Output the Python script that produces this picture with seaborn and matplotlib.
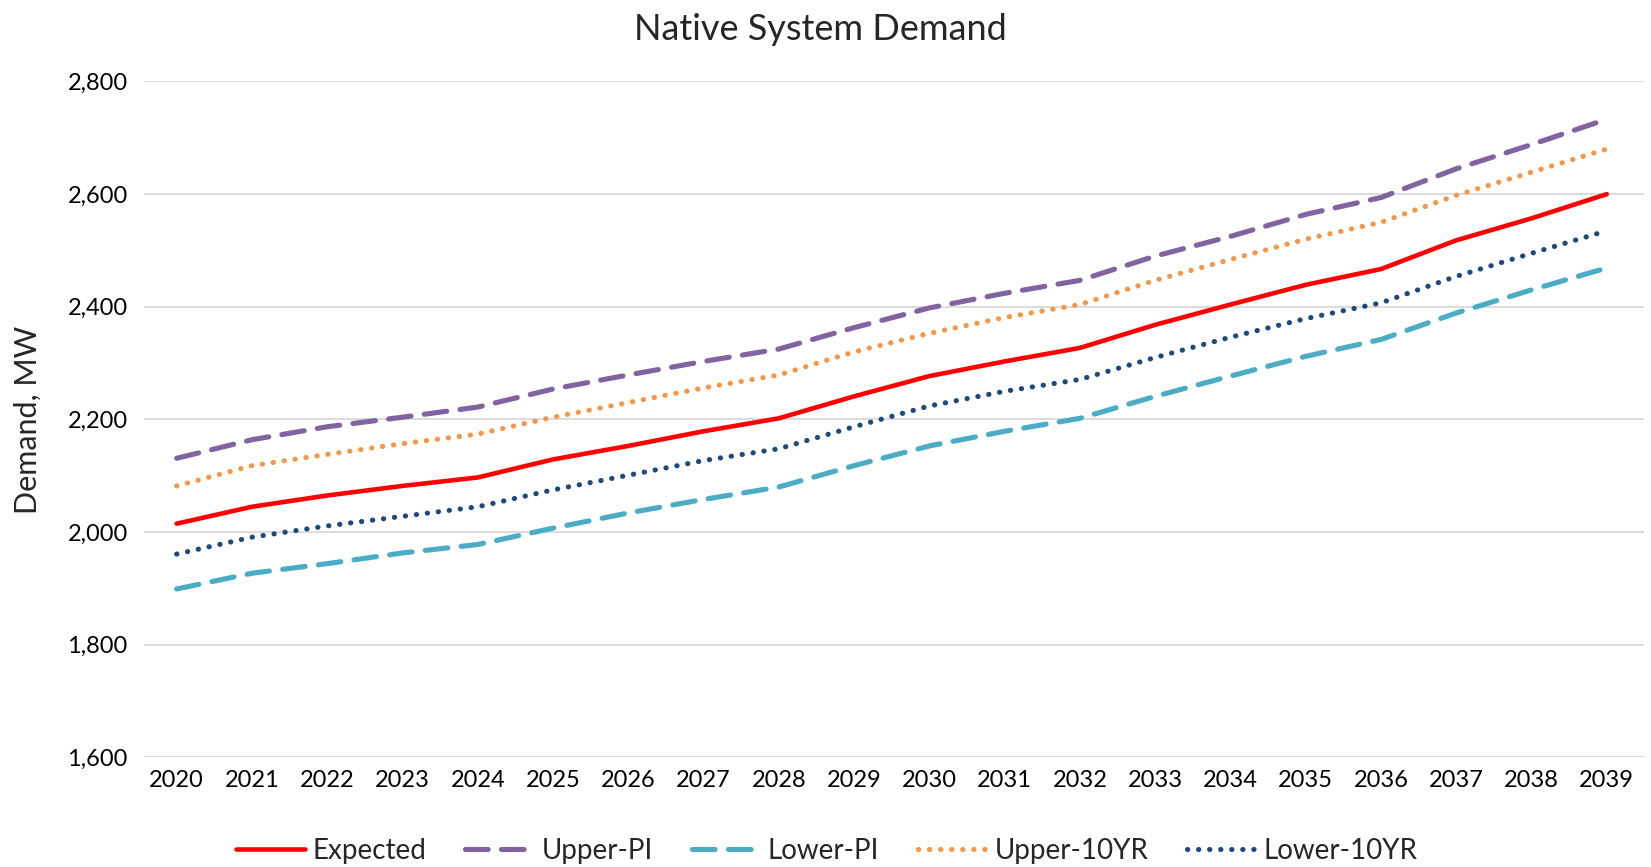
import matplotlib
matplotlib.use("Agg")
import matplotlib.pyplot as plt
import seaborn as sns
import pandas as pd
from matplotlib.ticker import FuncFormatter

years = list(range(2020, 2040))
expected = [2015, 2045, 2065, 2082, 2097, 2129, 2153, 2179, 2202, 2241,
            2277, 2303, 2327, 2368, 2404, 2439, 2467, 2518, 2557, 2600]
upper_pi = [2131, 2164, 2187, 2204, 2222, 2254, 2279, 2303, 2325, 2363,
            2398, 2424, 2447, 2490, 2525, 2564, 2594, 2645, 2688, 2733]
lower_pi = [1899, 1927, 1944, 1963, 1978, 2007, 2034, 2058, 2080, 2118,
            2153, 2179, 2202, 2241, 2277, 2312, 2342, 2389, 2430, 2469]
upper_10yr = [2082, 2118, 2138, 2157, 2174, 2204, 2230, 2256, 2279, 2320,
              2353, 2381, 2404, 2447, 2484, 2520, 2550, 2598, 2639, 2680]
lower_10yr = [1961, 1991, 2011, 2028, 2045, 2075, 2101, 2127, 2148, 2187,
              2224, 2250, 2271, 2310, 2346, 2379, 2407, 2454, 2495, 2535]

series_names = ["Expected", "Upper-PI", "Lower-PI", "Upper-10YR", "Lower-10YR"]
series_values = [expected, upper_pi, lower_pi, upper_10yr, lower_10yr]
colors = ["#FF0000", "#8064A2", "#4BACC6", "#F79646", "#1F497D"]

sns.set_theme(style="white")
plt.rcParams["font.family"] = ["Lato", "DejaVu Sans"]

fig = plt.figure(figsize=(16.51, 8.67), dpi=100)
ax = fig.add_axes([0.0874, 0.1264, 0.9086, 0.7796])

styles = {
    "Expected": dict(lw=3.3, dashes=None),
    "Upper-PI": dict(lw=3.7, dashes=(4.4, 2.6)),
    "Lower-PI": dict(lw=3.7, dashes=(4.4, 2.6)),
    "Upper-10YR": dict(lw=3.7, dashes=(0.05, 2.1)),
    "Lower-10YR": dict(lw=3.7, dashes=(0.05, 2.1)),
}

for name, vals, col in zip(series_names, series_values, colors):
    df = pd.DataFrame({"Year": years, "Demand": vals})
    sns.lineplot(data=df, x="Year", y="Demand", ax=ax, color=col, label=name)
    line = ax.get_lines()[-1]
    st = styles[name]
    line.set_linewidth(st["lw"])
    if st["dashes"] is not None:
        line.set_dashes(st["dashes"])
        line.set_dash_capstyle("round")
    else:
        line.set_solid_capstyle("round")
    line.set_solid_joinstyle("round")

ax.set_xlim(2019.57, 2039.5)
ax.set_ylim(1600, 2800)
ax.set_yticks(range(1600, 2801, 200))
ax.set_xticks(years)
ax.set_xticklabels([str(y) for y in years])
ax.yaxis.set_major_formatter(FuncFormatter(lambda v, p: f"{int(v):,}"))
ax.grid(axis="y", color="#D9D9D9", linewidth=1.3)
ax.grid(axis="x", visible=False)
for s in ax.spines.values():
    s.set_visible(False)
ax.tick_params(axis="both", labelsize=17, length=0, colors="black")
ax.tick_params(axis="y", pad=12)
ax.tick_params(axis="x", pad=9)

ax.set_xlabel("")
ax.set_ylabel("Demand, MW", fontsize=22, labelpad=18)
fig.suptitle("Native System Demand", fontsize=26, x=0.497, y=0.985)

leg = ax.legend(loc="upper center", bbox_to_anchor=(0.455, -0.082), ncol=5,
                frameon=False, fontsize=20, handlelength=2.5,
                columnspacing=1.4, handletextpad=0.25)

fig.savefig("out.png", dpi=100)
